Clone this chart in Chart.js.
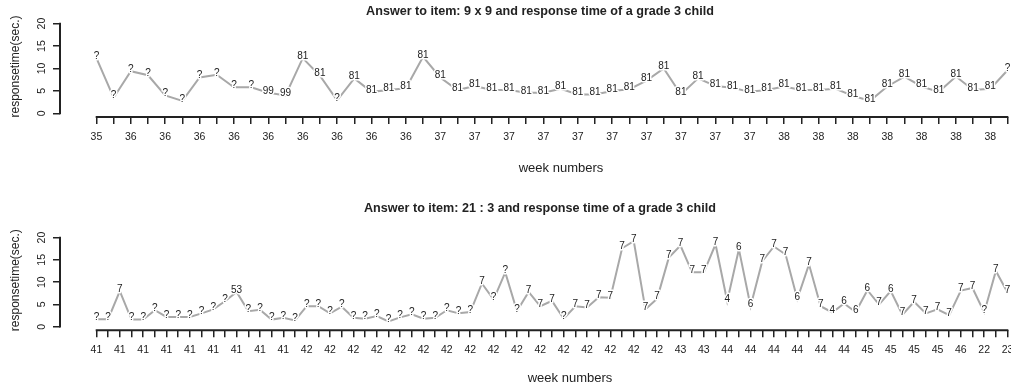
<!DOCTYPE html>
<html>
<head>
<meta charset="utf-8">
<script src="https://cdn.jsdelivr.net/npm/chart.js@4.4.1/dist/chart.umd.min.js"></script>
<style>
  html, body { margin: 0; padding: 0; background: #fff; }
  #wrap { position: relative; width: 1011px; height: 391px; overflow: hidden; background: #fff; }
  .panel { position: absolute; left: 0; }
</style>
</head>
<body>
<div id="wrap">
  <canvas id="multChart" class="panel" width="1080" height="195" style="top:0"></canvas>
  <canvas id="divChart" class="panel" width="1080" height="196" style="top:195px"></canvas>
</div>
<script>
// Item 9 x 9: week number, given answer and response time (sec.) per attempt
const multWeeks = [35,35,36,36,36,36,36,36,36,36,36,36,36,36,36,36,36,36,36,36,
                   37,37,37,37,37,37,37,37,37,37,37,37,37,37,37,37,37,37,37,37,
                   38,38,38,38,38,38,38,38,38,38,38,38,38,38];
const multAnswers = ["?","?","?","?","?","?","?","?","?","?","99","99","81","81","?",
                     "81","81","81","81","81","81","81","81","81","81","81","81","81","81","81",
                     "81","81","81","81","81","81","81","81","81","81","81","81","81","81","81",
                     "81","81","81","81","81","81","81","81","?"];
const multTimes = [12.3,3.5,9.4,8.5,4.0,2.8,8.0,8.6,5.8,5.8,
                   4.6,4.0,12.3,8.4,2.9,7.8,4.8,5.2,5.6,12.6,
                   8.0,5.2,6.1,5.2,5.2,4.6,4.6,5.5,4.2,4.2,
                   5.0,5.4,7.3,10.0,4.2,7.8,6.1,5.7,4.8,5.2,
                   6.0,5.2,5.2,5.5,3.9,2.8,6.0,8.2,6.0,4.8,
                   8.2,5.2,5.5,9.6];

// Item 21 : 3: week number, given answer and response time (sec.) per attempt
const divWeeks = [41,41,41,41,41,41,41,41,41,41,41,41,41,41,41,41,41,41,
                  42,42,42,42,42,42,42,42,42,42,42,42,42,42,42,42,
                  42,42,42,42,42,42,42,42,42,42,42,42,42,42,42,42,
                  43,43,43,43,
                  44,44,44,44,44,44,44,44,44,44,44,44,
                  45,45,45,45,45,45,45,45,
                  46,46,22,22,23];
const divAnswers = ["?","?","7","?","?","?","?","?","?","?",
                    "?","?","53","?","?","?","?","?","?","?",
                    "?","?","?","?","?","?","?","?","?","?",
                    "?","?","?","7","?","?","?","7","7","7",
                    "?","7","7","7","7","7","7","7","7","7",
                    "7","7","7","7","4","6","6","7","7","7",
                    "6","7","7","4","6","6","6","7","6","7",
                    "7","7","7","7","7","7","?","7","7"];
const divTimes = [1.7,1.7,8.0,1.6,1.6,3.7,2.2,2.2,2.2,3.0,
                  3.9,5.7,7.8,3.5,3.8,1.6,2.0,1.4,4.6,4.6,
                  3.0,4.5,2.0,1.8,2.4,1.2,2.1,2.8,1.8,2.0,
                  3.7,3.0,3.3,9.7,6.1,12.2,3.5,7.8,4.6,5.8,
                  1.8,4.6,4.3,6.6,6.5,17.6,19.2,3.9,6.3,15.5,
                  18.2,12.2,12.2,18.5,5.7,17.4,4.6,14.7,18.0,16.2,
                  6.2,14.0,4.6,3.2,5.2,3.3,8.2,5.0,8.0,2.7,
                  5.6,3.0,3.9,2.6,8.1,8.7,3.2,12.5,7.7];

const yTickValues = [0, 5, 10, 15, 20];

const FONT = '"Liberation Sans", Arial, Helvetica, sans-serif';
const INK = '#222';
const LINE_GREY = '#a8a8a8';

// answer text drawn on top of each point of the series
const answerLabels = {
  id: 'answerLabels',
  afterDatasetsDraw(chart, args, opts) {
    const ctx = chart.ctx;
    const meta = chart.getDatasetMeta(0);
    ctx.save();
    ctx.font = '10px ' + FONT;
    ctx.textAlign = 'center';
    ctx.textBaseline = 'middle';
    ctx.lineJoin = 'round';
    meta.data.forEach((pt, i) => {
      const txt = opts.labels[i];
      ctx.lineWidth = 3;
      ctx.strokeStyle = '#fff';
      ctx.strokeText(txt, pt.x, pt.y - 2);
      ctx.fillStyle = INK;
      ctx.fillText(txt, pt.x, pt.y - 2);
    });
    ctx.restore();
  }
};

// axis lines running from the first to the last tick only
const axisLines = {
  id: 'axisLines',
  afterDraw(chart) {
    const { ctx, chartArea, scales: { x, y } } = chart;
    const n = chart.data.datasets[0].data.length;
    ctx.save();
    ctx.strokeStyle = INK;
    ctx.lineWidth = 2;
    ctx.beginPath();
    ctx.moveTo(x.getPixelForValue(0) - 0.75, chartArea.bottom);
    ctx.lineTo(x.getPixelForValue(n - 1) + 0.75, chartArea.bottom);
    ctx.moveTo(chartArea.left, y.getPixelForValue(yTickValues[0]) + 0.75);
    ctx.lineTo(chartArea.left, y.getPixelForValue(yTickValues[yTickValues.length - 1]) - 0.75);
    ctx.stroke();
    ctx.restore();
  }
};

// main title and axis titles
const panelText = {
  id: 'panelText',
  afterDraw(chart, args, o) {
    const { ctx, chartArea } = chart;
    ctx.save();
    ctx.fillStyle = INK;
    ctx.textAlign = 'center';
    ctx.textBaseline = 'middle';
    ctx.font = 'bold 12.6px ' + FONT;
    ctx.fillText(o.title, o.titleX, o.titleY);
    ctx.font = '13px ' + FONT;
    ctx.fillText(o.xlab, o.xlabX, o.xlabY);
    ctx.translate(o.ylabX, (chartArea.top + chartArea.bottom) / 2 - 2);
    ctx.rotate(-Math.PI / 2);
    ctx.font = '12px ' + FONT;
    ctx.fillText(o.ylab, 0, 0);
    ctx.restore();
  }
};

function makePanel(id, weeks, answers, times, layout, text) {
  const n = times.length;
  const xExt = 0.04 * (n - 1);
  const yLo = yTickValues[0], yHi = yTickValues[yTickValues.length - 1];
  const yExt = 0.04 * (yHi - yLo);
  const tickFont = { family: FONT, size: 10.5 };
  return new Chart(document.getElementById(id), {
    type: 'line',
    data: {
      datasets: [{
        data: times.map((t, i) => ({ x: i, y: t })),
        borderColor: LINE_GREY,
        borderWidth: 2,
        pointRadius: 0,
        tension: 0,
        fill: false
      }]
    },
    options: {
      responsive: false,
      animation: false,
      devicePixelRatio: 1,
      layout: { padding: { top: layout.top, right: layout.right, left: 0, bottom: 0 } },
      plugins: {
        legend: { display: false },
        tooltip: { enabled: false },
        answerLabels: { labels: answers },
        panelText: text
      },
      scales: {
        x: {
          type: 'linear',
          bounds: 'data',
          min: -xExt,
          max: n - 1 + xExt,
          afterBuildTicks: s => { s.ticks = weeks.map((w, i) => ({ value: i })); },
          afterFit: s => { s.height = layout.xHeight; },
          grid: { drawOnChartArea: false, drawTicks: true, tickLength: 7, color: INK, lineWidth: 1.5 },
          border: { display: false },
          ticks: {
            autoSkip: false, minRotation: 0, maxRotation: 0, padding: 7,
            font: tickFont, color: INK,
            callback: v => (v % 2 === 0 ? String(weeks[v]) : '')
          }
        },
        y: {
          type: 'linear',
          bounds: 'data',
          min: yLo - yExt,
          max: yHi + yExt,
          afterBuildTicks: s => { s.ticks = yTickValues.map(v => ({ value: v })); },
          afterFit: s => { s.width = 60; },
          grid: { drawOnChartArea: false, drawTicks: true, tickLength: 7, color: INK, lineWidth: 1.5 },
          border: { display: false },
          ticks: {
            minRotation: 90, maxRotation: 90, crossAlign: 'center', padding: 5,
            font: tickFont, color: INK
          }
        }
      }
    },
    plugins: [answerLabels, axisLines, panelText]
  });
}

makePanel('multChart', multWeeks, multAnswers, multTimes,
  { top: 20, right: 36, xHeight: 78 },
  { title: 'Answer to item: 9 x 9 and response time of a grade 3 child', titleX: 540, titleY: 12,
    xlab: 'week numbers', xlabX: 561, xlabY: 168, ylab: 'responsetime(sec.)', ylabX: 16 });

makePanel('divChart', divWeeks, divAnswers, divTimes,
  { top: 39, right: 36, xHeight: 60.7 },
  { title: 'Answer to item: 21 : 3 and response time of a grade 3 child', titleX: 540, titleY: 14,
    xlab: 'week numbers', xlabX: 570, xlabY: 183, ylab: 'responsetime(sec.)', ylabX: 16 });
</script>
</body>
</html>
